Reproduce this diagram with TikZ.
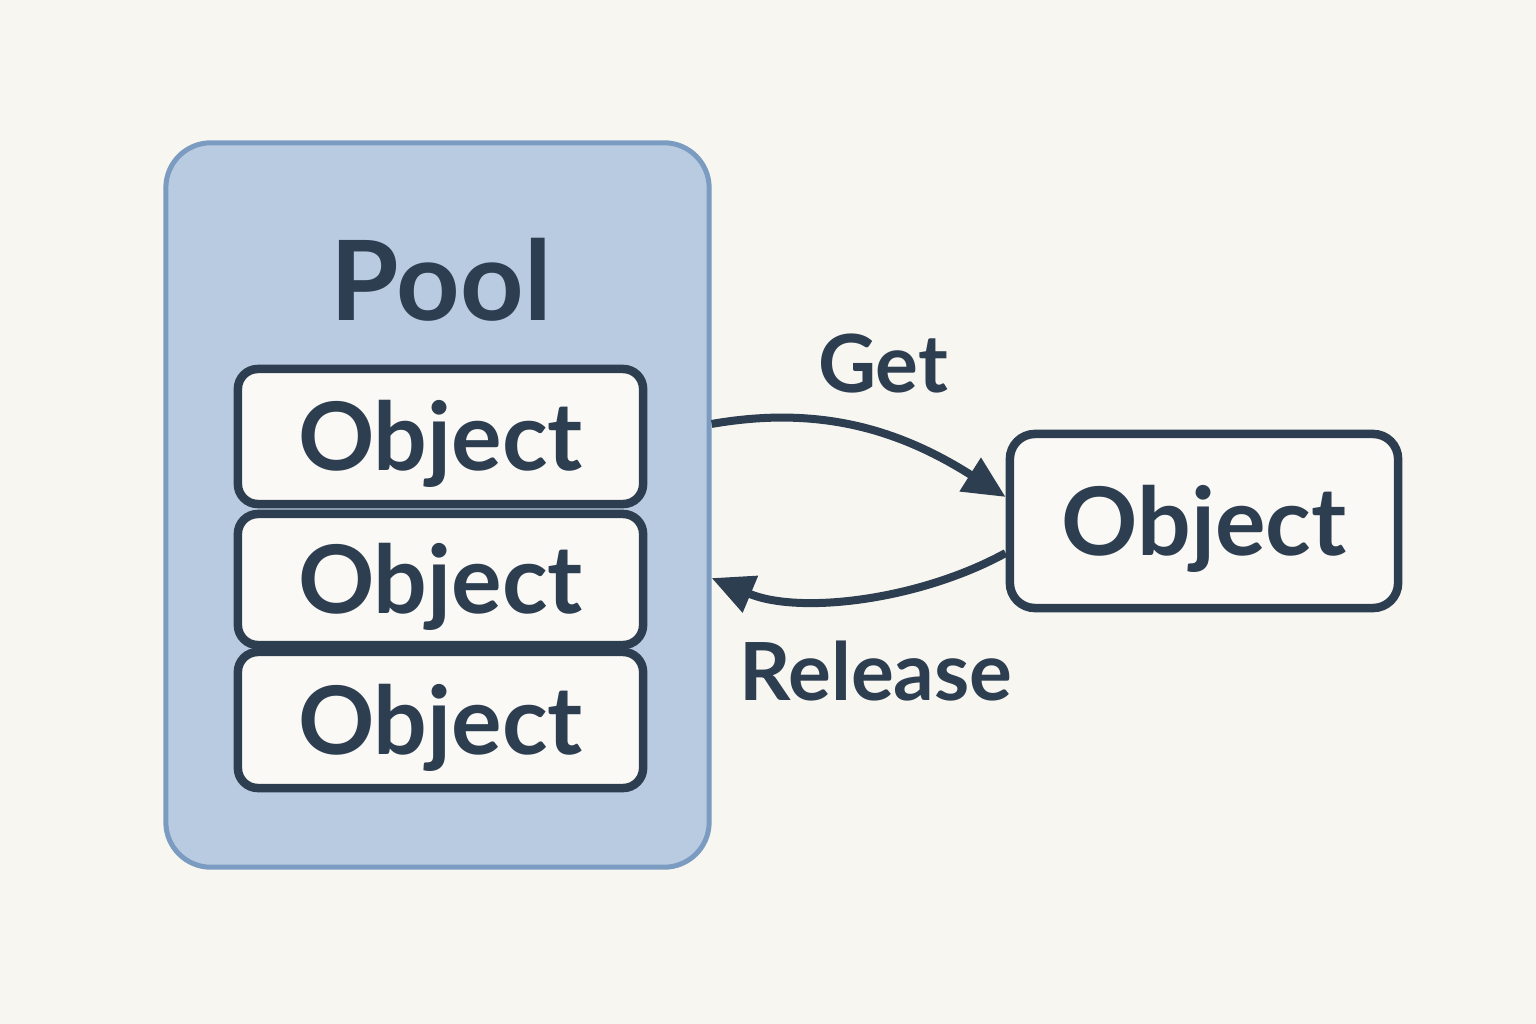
\documentclass[tikz,border=0pt]{standalone}
\usepackage{fontspec}
\setmainfont{Lato}
\usetikzlibrary{arrows.meta}
\definecolor{bg}{HTML}{F8F6F1}
\definecolor{poolfill}{HTML}{B8CBE1}
\definecolor{poolline}{HTML}{7B9BC1}
\definecolor{ink}{HTML}{2C3E50}
\definecolor{objfill}{HTML}{FBF9F5}
\begin{document}
\begin{tikzpicture}[x=0.01cm,y=-0.01cm,
  objbox/.style={draw=ink, fill=objfill, line width=0.085cm, rounded corners=0.2cm,
    inner sep=0pt, text height=0.68cm, text depth=0pt, text=ink,
    font=\bfseries\fontsize{26.9}{30}\selectfont},
  poolbox/.style={draw=poolline, fill=poolfill, line width=0.05cm, rounded corners=0.45cm,
    inner sep=0pt},
  lbl/.style={anchor=base, text=ink, inner sep=0pt, font=\bfseries\fontsize{22.8}{26}\selectfont},
  conn/.style={draw=ink, line width=0.08cm, -{Triangle[length=0.42cm,width=0.38cm]}}]
\fill[bg] (0,0) rectangle (1536,1024);
\node[poolbox, minimum width=5.43cm, minimum height=7.24cm] (pool) at (437.5,505) {};
\node[anchor=base, text=ink, inner sep=0pt, font=\bfseries\fontsize{31.5}{34}\selectfont] (pooltitle) at (441,320) {Pool};
\node[objbox, minimum width=4.05cm, minimum height=1.35cm] (o1) at (440.5,436.5) {Object};
\node[objbox, minimum width=4.05cm, minimum height=1.31cm] (o2) at (440.5,579.5) {Object};
\node[objbox, minimum width=4.05cm, minimum height=1.36cm] (o3) at (440.5,720) {Object};
\node[objbox, minimum width=3.88cm, minimum height=1.74cm, rounded corners=0.25cm] (or) at (1204,521) {Object};
\node[lbl] (get) at (883,392) {Get};
\node[lbl] (rel) at (876,700) {Release};
\draw[conn] ([yshift=0.81cm]pool.east) .. controls (820,405) and (900,430) .. ([yshift=0.24cm]or.west);
\draw[conn] ([yshift=-0.32cm]or.west) .. controls (920,600) and (800,615) .. ([yshift=-0.73cm]pool.east);
\end{tikzpicture}
\end{document}
